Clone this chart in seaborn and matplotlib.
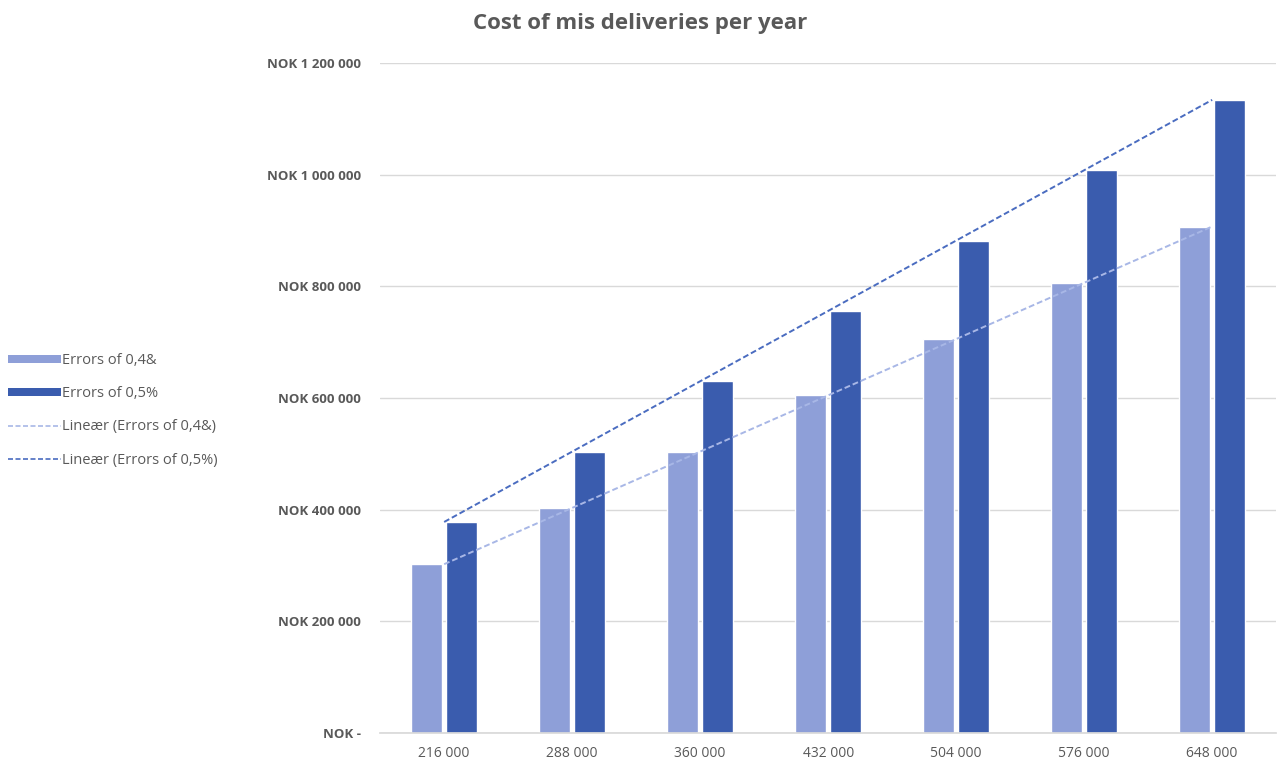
import numpy as np
import pandas as pd
import matplotlib
matplotlib.use("Agg")
import matplotlib.pyplot as plt
import seaborn as sns
from matplotlib.patches import Patch
from matplotlib.lines import Line2D

categories = ["216 000", "288 000", "360 000", "432 000", "504 000", "576 000", "648 000"]
errors_04 = [302400, 403200, 504000, 604800, 705600, 806400, 907200]
errors_05 = [378000, 504000, 630000, 756000, 882000, 1008000, 1134000]
series_names = ["Errors of 0,4&", "Errors of 0,5%"]
trend_names = ["Lineær (Errors of 0,4&)", "Lineær (Errors of 0,5%)"]
y_ticks = [0, 200000, 400000, 600000, 800000, 1000000, 1200000]
y_tick_labels = ["NOK -", "NOK 200 000", "NOK 400 000", "NOK 600 000",
                 "NOK 800 000", "NOK 1 000 000", "NOK 1 200 000"]

light = "#8E9FD8"
dark = "#3A5CAE"
light_tr = "#A8B7E6"
dark_tr = "#4A6CC0"

sns.set_theme(style="white")
plt.rcParams['font.family'] = ['Open Sans', 'DejaVu Sans']

df = pd.DataFrame({
    "category": categories * 2,
    "value": errors_04 + errors_05,
    "series": [series_names[0]] * len(categories) + [series_names[1]] * len(categories),
})

fig = plt.figure(figsize=(12.8, 7.63), dpi=100)
ax = fig.add_axes([0.297, 0.0393, 0.700, 0.8781])

sns.barplot(data=df, x="category", y="value", hue="series", order=categories,
            hue_order=series_names, palette=[light, dark], width=0.54, gap=0.1,
            ax=ax, legend=False, saturation=1)

xs = np.arange(len(categories))
for vals, col in [(errors_04, light_tr), (errors_05, dark_tr)]:
    coef = np.polyfit(xs, vals, 1)
    ax.plot(xs, np.polyval(coef, xs), linestyle=(0, (3, 1.5)), color=col, lw=1.4)

ax.set_ylim(0, 1200000)
ax.set_xlim(-0.5, len(categories) - 0.5)
ax.set_yticks(y_ticks)
ax.set_yticklabels(y_tick_labels, fontsize=9.5, fontweight='bold', color='#595959')
ax.tick_params(axis='y', length=0, pad=14)
ax.tick_params(axis='x', length=0, pad=9, labelsize=10, labelcolor='#595959')
ax.set_xlabel("")
ax.set_ylabel("")
ax.grid(axis='y', color='#D9D9D9', lw=1)
ax.set_axisbelow(True)
for s in ["top", "right", "left"]:
    ax.spines[s].set_visible(False)
ax.spines["bottom"].set_color("#D9D9D9")

fig.text(0.5, 0.969, "Cost of mis deliveries per year", ha='center', va='center',
         fontsize=16, fontweight='bold', color='#595959')

handles = [Patch(facecolor=light, edgecolor='none'),
           Patch(facecolor=dark, edgecolor='none'),
           Line2D([0], [0], color=light_tr, lw=1.2, linestyle=(0, (3, 1.5))),
           Line2D([0], [0], color=dark_tr, lw=1.2, linestyle=(0, (3, 1.5)))]
labels = ["Errors of 0,4&", "Errors of 0,5%", trend_names[0], trend_names[1]]
fig.legend(handles, labels, loc='upper left', bbox_to_anchor=(0.002, 0.545),
           frameon=False, fontsize=10.5, labelcolor='#595959', handlelength=3.6,
           handleheight=0.45, handletextpad=0.1, labelspacing=1.25, borderaxespad=0)

fig.savefig("out.png", dpi=100)
